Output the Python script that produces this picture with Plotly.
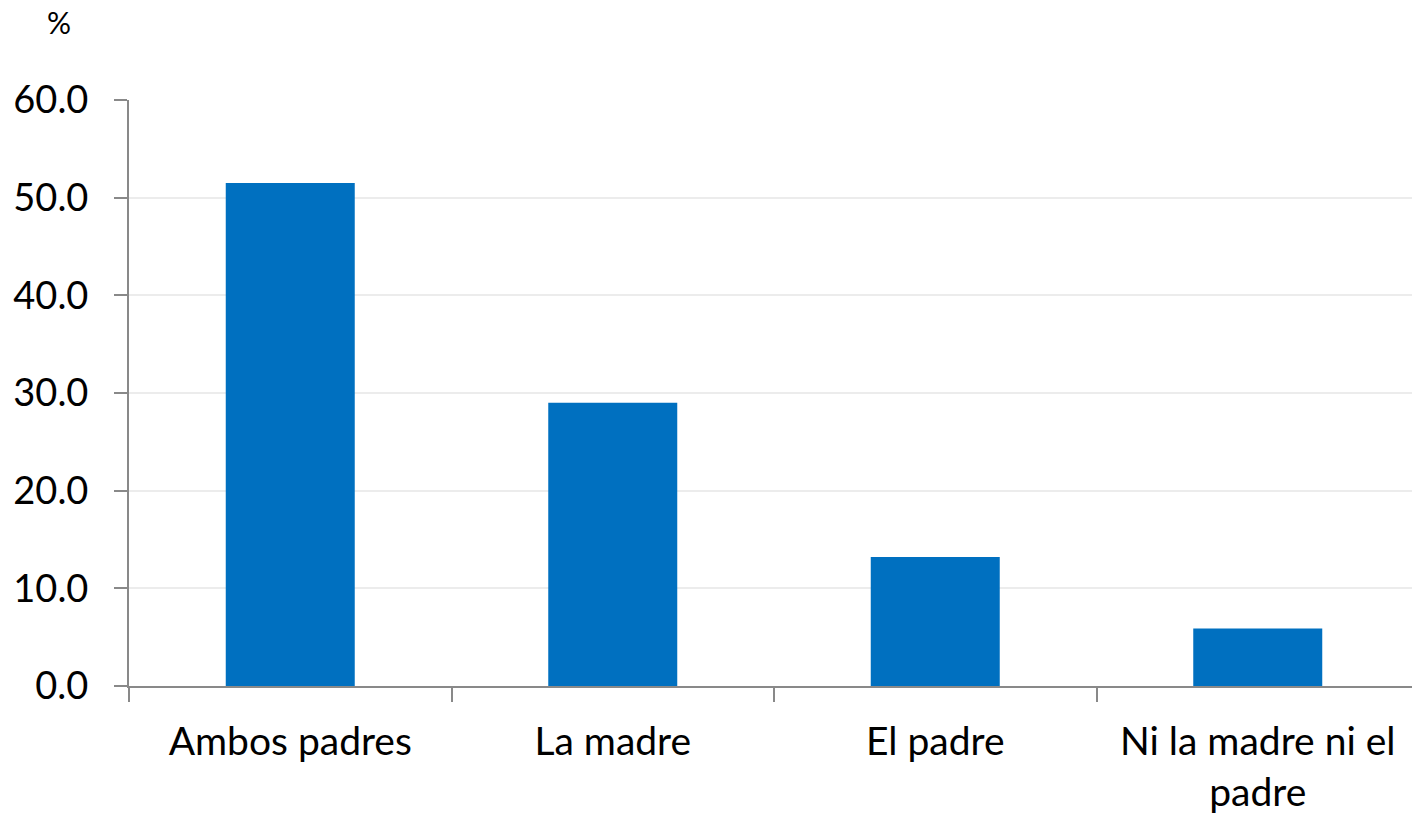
import plotly.graph_objects as go

categories = ["Ambos padres", "La madre", "El padre", "Ni la madre ni el<br>padre"]
values = [51.5, 29.0, 13.2, 5.9]
y_ticks = [0, 10, 20, 30, 40, 50, 60]
y_tick_labels = ["0.0", "10.0", "20.0", "30.0", "40.0", "50.0", "60.0"]

FONT = "Lato, 'Open Sans', sans-serif"

fig = go.Figure(go.Bar(x=categories, y=values, width=0.4, marker_color="#0070c0",
                       marker_line_width=0))

fig.update_layout(
    width=1420, height=815,
    margin=dict(l=129, r=1, t=100, b=129),
    plot_bgcolor="white", paper_bgcolor="white",
    showlegend=False,
    font=dict(family=FONT, size=38, color="#000000"),
)
fig.update_yaxes(
    range=[0, 60], tickvals=y_ticks, ticktext=y_tick_labels,
    showgrid=True, gridcolor="#ececec", gridwidth=2,
    showline=True, linecolor="#898989", linewidth=2,
    ticks="outside", ticklen=13, tickcolor="#898989", tickwidth=2,
    ticklabelstandoff=18, zeroline=False,
    tickfont=dict(family=FONT, size=38, color="#000000"),
)
fig.update_xaxes(
    showline=True, linecolor="#898989", linewidth=2,
    ticks="outside", tickson="boundaries", ticklen=14, tickcolor="#898989", tickwidth=2,
    tickfont=dict(family=FONT, size=39, color="#000000"),
    ticklabelstandoff=20,
)
fig.add_annotation(text="%", xref="paper", yref="paper", x=-0.054, y=1.0,
                   yshift=78, showarrow=False, xanchor="center", yanchor="middle",
                   font=dict(family=FONT, size=30, color="#000000"))

fig.write_html("out.html", config={"displayModeBar": False},
               post_script="document.body.style.margin='0';document.body.style.overflow='hidden';")
